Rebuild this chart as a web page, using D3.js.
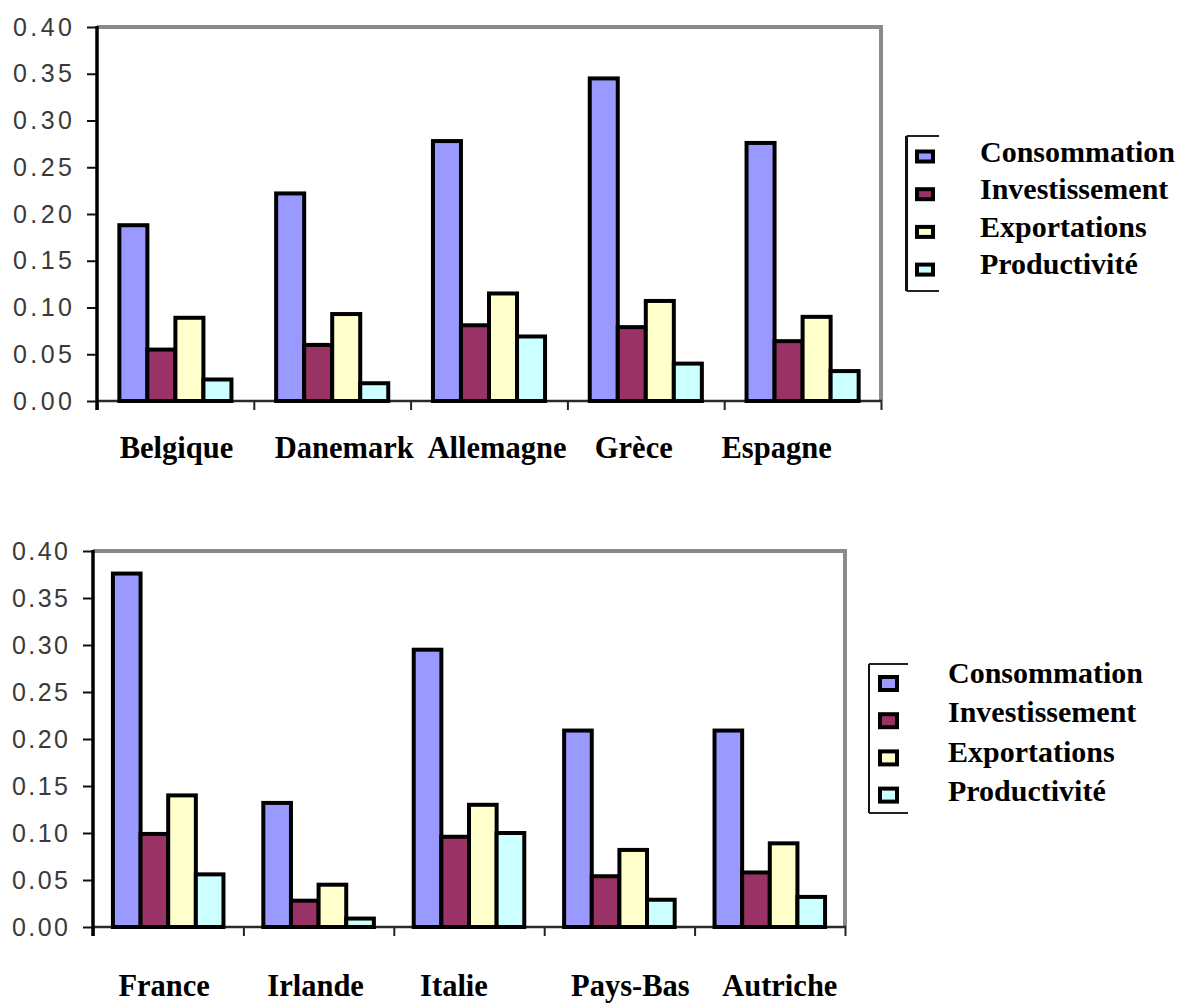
<!DOCTYPE html>
<html>
<head>
<meta charset="utf-8">
<script src="https://cdn.jsdelivr.net/npm/d3@7/dist/d3.min.js"></script>
<style>
  html, body { margin: 0; padding: 0; background: #ffffff; }
  svg { display: block; }
</style>
</head>
<body>
<svg id="chart" width="1180" height="1005"></svg>
<script>
// ---- data -------------------------------------------------------------
const seriesNames = ["Consommation", "Investissement", "Exportations", "Productivité"];
const yTickValues = [0, 0.05, 0.10, 0.15, 0.20, 0.25, 0.30, 0.35, 0.40];

// first group of countries
const countriesA      = ["Belgique", "Danemark", "Allemagne", "Grèce", "Espagne"];
const consommationA   = [0.188, 0.222, 0.278, 0.345, 0.276];
const investissementA = [0.055, 0.060, 0.081, 0.079, 0.064];
const exportationsA   = [0.089, 0.093, 0.115, 0.107, 0.090];
const productiviteA   = [0.023, 0.019, 0.069, 0.040, 0.032];

// second group of countries
const countriesB      = ["France", "Irlande", "Italie", "Pays-Bas", "Autriche"];
const consommationB   = [0.376, 0.132, 0.295, 0.209, 0.209];
const investissementB = [0.099, 0.028, 0.096, 0.054, 0.058];
const exportationsB   = [0.140, 0.045, 0.130, 0.082, 0.089];
const productiviteB   = [0.056, 0.009, 0.100, 0.029, 0.032];

// ---- styling ------------------------------------------------------------
const seriesColors = ["#9999ff", "#993366", "#ffffcc", "#ccffff"];
const serifFont = "'Liberation Serif', 'Times New Roman', serif";
const sansFont = "'Liberation Sans', Arial, sans-serif";
const barStroke = 4;

const panels = [
  {
    countries: countriesA,
    values: [consommationA, investissementA, exportationsA, productiviteA],
    x0: 97, x1: 881, yTop: 27, yBottom: 401,
    groupRatio: 0.715,
    tickLabelLength: 59,
    labelBaseline: 458,
    labelNudge: [1, 12, 8, -12, -26],
    legend: {
      boxLeft: 906.5, boxTop: 136, boxBottom: 291, boxRight: 939, leftWidth: 3, edgeWidth: 2,
      swatchX: 917, swatchW: 16, swatchH: 10, swatchY0: 156.5, swatchStep: 37.7,
      textX: 980, textY0: 162, textStep: 37.4
    }
  },
  {
    countries: countriesB,
    values: [consommationB, investissementB, exportationsB, productiviteB],
    x0: 93, x1: 845, yTop: 551, yBottom: 927,
    groupRatio: 0.735,
    tickLabelLength: 56,
    labelBaseline: 996,
    labelNudge: [-4, -3, -15, 11, 10],
    legend: {
      boxLeft: 869, boxTop: 664, boxBottom: 813, boxRight: 908, leftWidth: 2, edgeWidth: 2,
      swatchX: 880, swatchW: 17, swatchH: 13, swatchY0: 683.5, swatchStep: 37.2,
      textX: 948, textY0: 683, textStep: 39.3
    }
  }
];

const svg = d3.select("#chart");

panels.forEach(p => {
  const g = svg.append("g");

  const y = d3.scaleLinear().domain([0, 0.40]).range([p.yBottom, p.yTop]);
  const x = d3.scaleBand().domain(p.countries).range([p.x0, p.x1]).padding(0);
  const boundaries = d3.scaleLinear().domain([0, p.countries.length]).range([p.x0, p.x1]);

  // plot frame (top and right edges)
  g.append("line")
    .attr("x1", p.x0).attr("x2", p.x1 + 2)
    .attr("y1", p.yTop).attr("y2", p.yTop)
    .attr("stroke", "#8a8a8a").attr("stroke-width", 4);
  g.append("line")
    .attr("x1", p.x1).attr("x2", p.x1)
    .attr("y1", p.yTop).attr("y2", p.yBottom)
    .attr("stroke", "#8a8a8a").attr("stroke-width", 4);

  // value axis
  const yAxis = d3.axisLeft(y)
    .tickValues(yTickValues)
    .tickSize(10)
    .tickSizeOuter(0)
    .tickPadding(15)
    .tickFormat(d3.format(".2f"));
  const yg = g.append("g").attr("transform", `translate(${p.x0},0)`).call(yAxis);
  yg.select(".domain").remove();
  yg.selectAll(".tick line").attr("stroke", "#111").attr("stroke-width", 2);
  yg.selectAll(".tick text")
    .attr("fill", "#3a3a3a")
    .attr("font-family", sansFont)
    .attr("font-size", 25)
    .attr("textLength", p.tickLabelLength)
    .attr("lengthAdjust", "spacing");

  // category axis, ticks at group boundaries
  const xAxis = d3.axisBottom(boundaries)
    .tickValues(d3.range(p.countries.length + 1))
    .tickSize(9)
    .tickSizeOuter(0)
    .tickFormat("");
  const xg = g.append("g").attr("transform", `translate(0,${p.yBottom})`).call(xAxis);
  xg.select(".domain").remove();
  xg.selectAll(".tick line").attr("stroke", "#222").attr("stroke-width", 2);
  g.append("line")
    .attr("x1", p.x0).attr("x2", p.x1 + 1)
    .attr("y1", p.yBottom).attr("y2", p.yBottom)
    .attr("stroke", "#2a2a2a").attr("stroke-width", 2.5);
  g.append("line")
    .attr("x1", p.x0).attr("x2", p.x0)
    .attr("y1", p.yTop - 1).attr("y2", p.yBottom + 9)
    .attr("stroke", "#000").attr("stroke-width", 3.5);

  // bars
  const inner = d3.scaleBand().domain(d3.range(seriesNames.length)).padding(0);
  const groupW = x.bandwidth() * p.groupRatio;
  inner.range([0, groupW]);

  const groups = g.append("g").selectAll("g")
    .data(p.countries)
    .join("g")
    .attr("transform", d => `translate(${x(d) + (x.bandwidth() - groupW) / 2},0)`);

  groups.selectAll("rect")
    .data((d, i) => p.values.map((vals, s) => ({ s, v: vals[i] })))
    .join("rect")
    .attr("x", d => inner(d.s))
    .attr("width", inner.bandwidth())
    .attr("y", d => y(d.v))
    .attr("height", d => y(0) - y(d.v))
    .attr("fill", d => seriesColors[d.s])
    .attr("stroke", "#000")
    .attr("stroke-width", barStroke);

  // country names
  g.append("g").selectAll("text")
    .data(p.countries)
    .join("text")
    .attr("x", (d, i) => x(d) + x.bandwidth() / 2 + p.labelNudge[i])
    .attr("y", p.labelBaseline)
    .attr("text-anchor", "middle")
    .attr("font-family", serifFont)
    .attr("font-weight", "bold")
    .attr("font-size", 30.5)
    .attr("fill", "#000")
    .text(d => d);

  // legend (box partly hidden behind the labels)
  const L = p.legend;
  const lg = g.append("g");
  lg.append("line")
    .attr("x1", L.boxLeft).attr("x2", L.boxLeft)
    .attr("y1", L.boxTop).attr("y2", L.boxBottom)
    .attr("stroke", "#111").attr("stroke-width", L.leftWidth);
  [L.boxTop, L.boxBottom].forEach(yy => {
    lg.append("line")
      .attr("x1", L.boxLeft).attr("x2", L.boxRight)
      .attr("y1", yy).attr("y2", yy)
      .attr("stroke", "#222").attr("stroke-width", L.edgeWidth);
  });
  lg.selectAll("rect")
    .data(seriesNames)
    .join("rect")
    .attr("x", L.swatchX)
    .attr("y", (d, i) => L.swatchY0 + i * L.swatchStep - L.swatchH / 2)
    .attr("width", L.swatchW)
    .attr("height", L.swatchH)
    .attr("fill", (d, i) => seriesColors[i])
    .attr("stroke", "#000")
    .attr("stroke-width", barStroke);
  lg.selectAll("text")
    .data(seriesNames)
    .join("text")
    .attr("x", L.textX)
    .attr("y", (d, i) => L.textY0 + i * L.textStep)
    .attr("font-family", serifFont)
    .attr("font-weight", "bold")
    .attr("font-size", 30)
    .attr("fill", "#000")
    .text(d => d);
});
</script>
</body>
</html>
